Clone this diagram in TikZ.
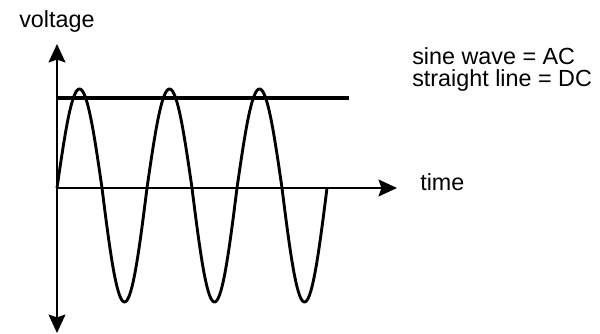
\documentclass[tikz,border=0pt]{standalone}
\usepackage{fontspec}
\setmainfont{Liberation Sans}
\usetikzlibrary{arrows.meta}
\tikzset{
  axis/.style={line width=0.058cm, -{Stealth[length=0.46cm, width=0.42cm, inset=0.07cm]}},
  wave/.style={line width=0.072cm, line join=round},
  level/.style={line width=0.082cm},
  label/.style={font=\fontsize{16.6}{19}\selectfont, inner sep=0pt, anchor=base west}
}
\begin{document}
\begin{tikzpicture}[x=0.025cm, y=-0.025cm]
    \useasboundingbox (0,0) rectangle (600,334);
    \coordinate (O) at (57,188); \coordinate (Ytop) at (57,44);
    \coordinate (Ybot) at (57,333); \coordinate (Xend) at (397,188);
    \coordinate (DCa) at (57,98); \coordinate (DCb) at (349,98);
    \draw[axis] (O)--(Ytop); \draw[axis] (O)--(Ybot); \draw[axis] (O)--(Xend);
    \draw[level] (DCa)--(DCb);
    \draw[wave] plot[domain=57:327, samples=271, smooth]
      (\x, {188 - sin(4*(\x-57))*(sin(4*(\x-57))>0 ? 99 : 114)});
    \node[label] (volt) at (19,28) {voltage};
    \node[label] (time) at (420,191) {time};
    \node[label] (legAC) at (412,65) {sine wave = AC};
    \node[label] (legDC) at (412,87) {straight line = DC};
  \end{tikzpicture}
\end{document}
